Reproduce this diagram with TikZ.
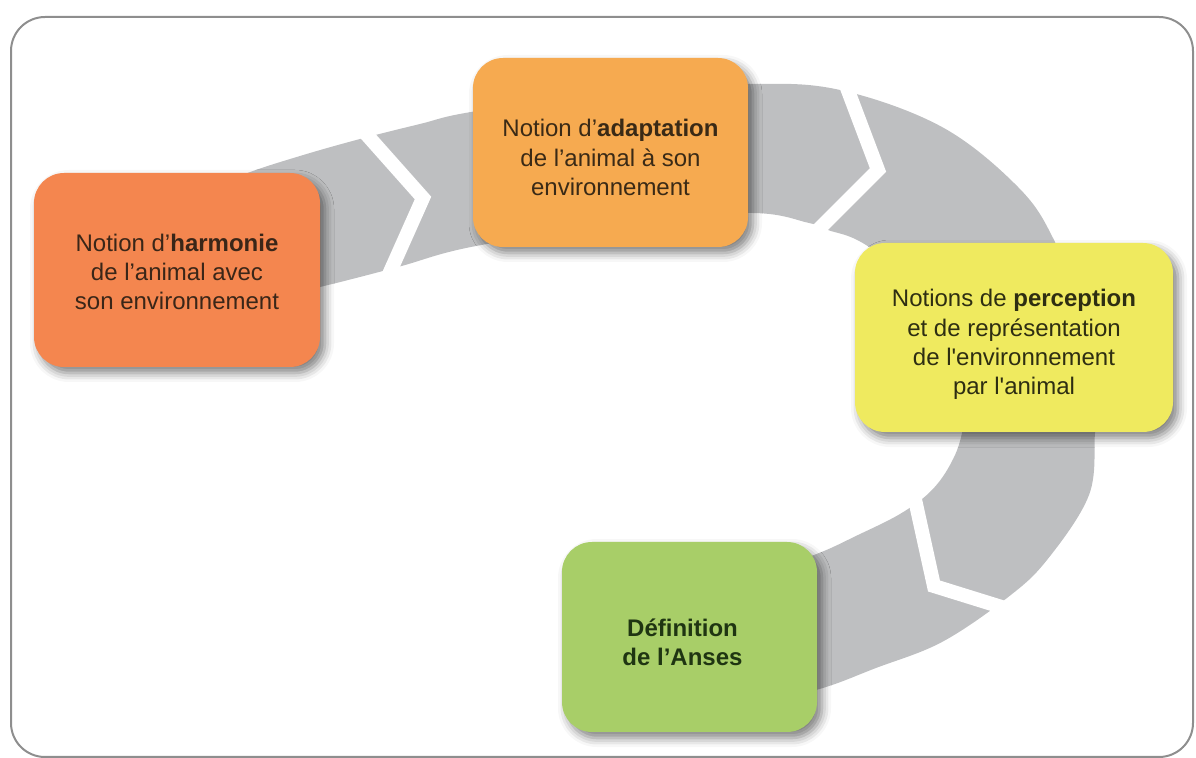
\documentclass[tikz,border=0pt]{standalone}
\usepackage{fontspec}
\setmainfont{Liberation Sans}
\usetikzlibrary{shadows.blur}
\definecolor{bandgray}{HTML}{BEBFC1}
\definecolor{framegray}{HTML}{8E8E8E}
\definecolor{cA}{HTML}{F4864F}
\definecolor{cB}{HTML}{F6AA50}
\definecolor{cC}{HTML}{EFEA5F}
\definecolor{cD}{HTML}{A8CE68}
\definecolor{tA}{HTML}{3A2618}
\definecolor{tB}{HTML}{3A2A16}
\definecolor{tC}{HTML}{2E2E12}
\definecolor{tD}{HTML}{1F3512}
\begin{document}
\begin{tikzpicture}[x=0.5pt,y=-0.5pt,
  box/.style={rounded corners=15pt, inner sep=0pt,
    blur shadow={shadow xshift=2.5pt, shadow yshift=-3pt, shadow blur radius=4.5pt, shadow opacity=50}},
  lbl/.style={align=center, font=\fontsize{12pt}{14.6pt}\selectfont, inner sep=0pt},
  notch/.style={draw=white, line width=7pt, line join=miter}]
\useasboundingbox (0,0) rectangle (1196,758);
% frame
\draw[framegray, line width=1pt, rounded corners=17pt] (11,17) rectangle (1193,757);
% band
\fill[bandgray] plot[smooth, tension=0.6] coordinates {(200,195) (245,174) (300,156) (360,139) (420,124) (471,112) (610,92) (748,84) (840,90) (942,127) (1018,187) (1054,240) (1085,320) (1098,400) (1095,433) (1089,495) (1047,560) (1007,598) (942,642) (876,668) (816,690) (740,705)}
 -- plot[smooth, tension=0.6] coordinates {(740,580) (814,555) (858,535) (900,514) (930,492) (950,465) (962,433) (968,380) (940,300) (866,245) (828,230) (809,223) (748,213) (610,225) (471,247) (398,267) (320,287) (220,310)} -- cycle;
% notches
\coordinate (n1a) at (359,126); \coordinate (n1b) at (423,198); \coordinate (n1c) at (386,281);
\coordinate (n2a) at (844,80);  \coordinate (n2b) at (878,170); \coordinate (n2c) at (810,238);
\coordinate (n3a) at (914,495); \coordinate (n3b) at (934,586); \coordinate (n3c) at (1008,609);
\draw[notch] (n1a) -- (n1b) -- (n1c);
\draw[notch] (n2a) -- (n2b) -- (n2c);
\draw[notch] (n3a) -- (n3b) -- (n3c);
% boxes
\node[box, fill=cA, minimum width=143pt, minimum height=97pt] (b1) at (177,270) {};
\node[box, fill=cB, minimum width=137.5pt, minimum height=94.5pt] (b2) at (610.5,152.5) {};
\node[box, fill=cC, minimum width=159pt, minimum height=94.5pt] (b3) at (1014,337.5) {};
\node[box, fill=cD, minimum width=127.5pt, minimum height=95pt] (b4) at (689.5,637) {};
% texts
\node[lbl, text=tA] (t1) at ([yshift=-1pt]b1.center) {Notion d’\textbf{harmonie}\\de l’animal avec\\son environnement};
\node[lbl, text=tB] (t2) at ([yshift=-2.5pt]b2.center) {Notion d’\textbf{adaptation}\\de l’animal à son\\environnement};
\node[lbl, text=tC] (t3) at ([yshift=-3.5pt]b3.center) {Notions de \textbf{perception}\\et de représentation\\de l\textquotesingle environnement\\par l\textquotesingle animal};
\node[lbl, text=tD, font=\fontsize{12pt}{14.6pt}\selectfont\bfseries] (t4) at ([xshift=-3.5pt,yshift=-2.5pt]b4.center) {Définition\\de l’Anses};
\end{tikzpicture}
\end{document}
